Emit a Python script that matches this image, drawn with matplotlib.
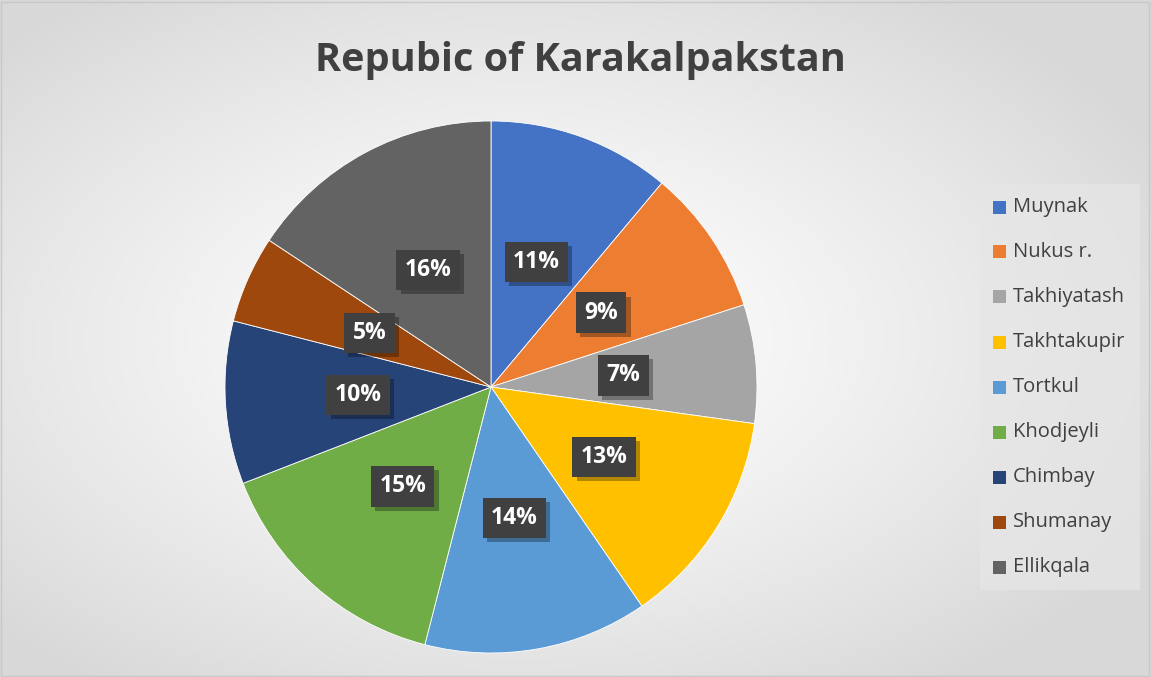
import numpy as np
import matplotlib
matplotlib.use("Agg")
import matplotlib.pyplot as plt
from matplotlib import patheffects
from matplotlib.patches import Rectangle

categories = ["Muynak", "Nukus r.", "Takhiyatash", "Takhtakupir", "Tortkul",
              "Khodjeyli", "Chimbay", "Shumanay", "Ellikqala"]
values = [11.1, 8.9, 7.2, 13.2, 13.6, 15.1, 9.9, 5.3, 15.7]
colors = ["#4472C4", "#ED7D31", "#A5A5A5", "#FFC000", "#5B9BD5",
          "#70AD47", "#264478", "#9E480E", "#636363"]
title = "Repubic of Karakalpakstan"

W, H = 1151, 677
fig = plt.figure(figsize=(W / 100, H / 100), dpi=100)

# radial gradient background
bg = fig.add_axes([0, 0, 1, 1])
yy, xx = np.mgrid[0:H, 0:W]
cx, cy = W * 0.45, H * 0.5
d = np.sqrt(((xx - cx) / (W * 0.62)) ** 2 + ((yy - cy) / (H * 0.62)) ** 2)
d = np.clip(d, 0, 1)
val = 1.0 - 0.15 * d ** 1.3
img = np.dstack([val, val, val])
bg.imshow(img, extent=[0, 1, 0, 1], aspect="auto", origin="upper")
bg.add_patch(Rectangle((0.001, 0.002), 0.997, 0.995, fill=False, ec="#c8c8c8", lw=1,
                       transform=bg.transAxes))
bg.set_xlim(0, 1); bg.set_ylim(0, 1)
bg.axis("off")

# pie
pcx, pcy, r = 491, 387, 266
ax = fig.add_axes([(pcx - r) / W, (H - pcy - r) / H, 2 * r / W, 2 * r / H])
wedges, texts, autotexts = ax.pie(
    values, colors=colors, startangle=90, counterclock=False,
    autopct="%1.0f%%", pctdistance=0.5, radius=1,
    wedgeprops=dict(edgecolor="white", linewidth=0.6),
    textprops=dict(color="white", fontsize=16.5, fontweight="bold", family="Open Sans"))
ax.set_xlim(-1, 1); ax.set_ylim(-1, 1)
ax.set_aspect("auto")
ax.axis("off")
for t in autotexts:
    t.set_bbox(dict(boxstyle="square,pad=0.36", fc="#404040", ec="none"))
    t.get_bbox_patch().set_path_effects([
        patheffects.withSimplePatchShadow(offset=(3, -3), shadow_rgbFace="black", alpha=0.3),
        patheffects.Normal()])

# title
fig.text(580 / W, 1 - 61 / H, title, ha="center", va="center", fontsize=28.5,
         fontweight="bold", color="#404040", family="Open Sans")

# legend
lx0, ly0, lx1, ly1 = 980, 184, 1140, 590
bg.add_patch(Rectangle((lx0 / W, 1 - ly1 / H), (lx1 - lx0) / W, (ly1 - ly0) / H,
                       fc="#e6e6e6", ec="none", alpha=0.75, transform=bg.transAxes))
for i, (lab, c) in enumerate(zip(categories, colors)):
    y = 207 + 45 * i
    s = 13
    bg.add_patch(Rectangle(((999 - s / 2) / W, 1 - (y + s / 2) / H), s / W, s / H,
                           fc=c, ec="none", transform=bg.transAxes))
    fig.text(1013 / W, 1 - y / H, lab, ha="left", va="center", fontsize=14.5,
             color="#404040", family="Open Sans")

fig.savefig("out.png", dpi=100)
